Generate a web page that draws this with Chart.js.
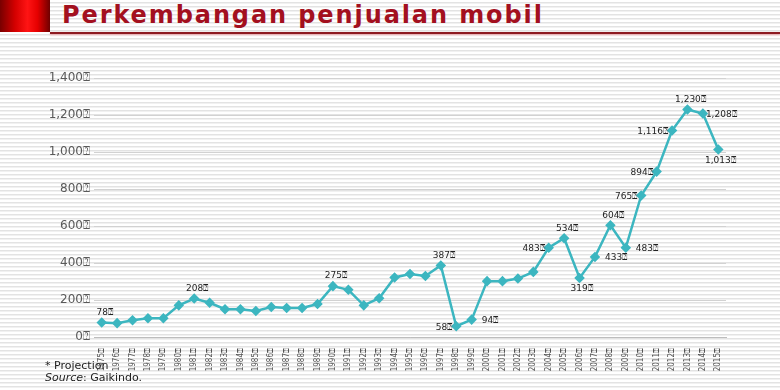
<!DOCTYPE html>
<html lang="id">
<head>
    <meta charset="UTF-8">
    <title>Perkembangan penjualan mobil</title>
    <script src="https://cdn.jsdelivr.net/npm/chart.js"></script>
    <style>
        html, body {
            margin: 0;
            padding: 0;
        }
        body {
            width: 780px;
            height: 390px;
            position: relative;
            overflow: hidden;
            background: repeating-linear-gradient(to bottom,
                #ffffff 0, #ffffff 2px, #e3e3e3 2px, #e3e3e3 3px, #f1f1f1 3px, #f1f1f1 4px);
        }
        .red-block {
            position: absolute;
            left: 0; top: 0;
            width: 50px; height: 32px;
            background: linear-gradient(to right, #780000 0%, #d40000 30%, #ff1414 55%, #e60000 75%, #6e0000 100%);
        }
        .title {
            position: absolute;
            left: 62px; top: 1px;
            margin: 0;
            font-family: 'DejaVu Sans', sans-serif;
            font-weight: 700;
            font-size: 24px;
            line-height: 28px;
            letter-spacing: 1.9px;
            color: #a3101f;
            white-space: nowrap;
        }
        .title-line {
            position: absolute;
            left: 50px; top: 32px;
            width: 730px; height: 2px;
            background: #8e1b22;
            box-shadow: 0 1px 2px rgba(240, 120, 130, 0.6);
        }
        .chart-box {
            position: absolute;
            left: 0; top: 0;
            width: 780px; height: 390px;
        }
        .note {
            position: absolute;
            left: 45px;
            font-family: 'DejaVu Sans', sans-serif;
            font-size: 11px;
            color: #222;
        }
    </style>
</head>
<body>
    <div class="red-block"></div>
    <h1 class="title">Perkembangan penjualan mobil</h1>
    <div class="title-line"></div>
    <div class="chart-box"><canvas id="salesChart"></canvas></div>
    <div class="note" style="top: 359px;">* Projection</div>
    <div class="note" style="top: 371px;"><i>Source</i>: Gaikindo.</div>

    <script>
        const years = ['1975', '1976', '1977', '1978', '1979', '1980', '1981', '1982', '1983', '1984',
                       '1985', '1986', '1987', '1988', '1989', '1990', '1991', '1992', '1993', '1994',
                       '1995', '1996', '1997', '1998', '1999', '2000', '2001', '2002', '2003', '2004',
                       '2005', '2006', '2007', '2008', '2009', '2010', '2011', '2012', '2013', '2014',
                       '2015'];
        // ribuan unit
        const sales = [78, 75, 91, 101, 101, 171, 208, 185, 150, 150,
                       141, 162, 157, 157, 178, 275, 255, 171, 210, 322,
                       341, 330, 387, 58, 94, 302, 302, 316, 352, 483,
                       534, 319, 433, 604, 483, 765, 894, 1116, 1230, 1208,
                       1013];
        const yTicks = [0, 200, 400, 600, 800, 1000, 1200, 1400];
        const labeledYears = ['1975', '1981', '1990', '1997', '1998', '1999', '2004', '2005', '2006',
                              '2007', '2008', '2009', '2010', '2011', '2012', '2013', '2014', '2015'];

        const BOX = '\u2370';

        // where each value label sits around its point
        const labelSide = {
            '1975': 'top', '1981': 'top', '1990': 'top', '1997': 'top',
            '1998': 'left', '1999': 'right', '2004': 'left', '2005': 'top',
            '2006': 'bottom', '2007': 'right', '2008': 'top', '2009': 'right',
            '2010': 'left', '2011': 'left', '2012': 'left', '2013': 'top',
            '2014': 'rightNear', '2015': 'bottom'
        };

        const fmt = v => v.toLocaleString('en-US') + BOX;

        const valueLabels = {
            id: 'valueLabels',
            afterDatasetsDraw(chart) {
                const ctx = chart.ctx;
                const meta = chart.getDatasetMeta(0);
                ctx.save();
                ctx.font = '9px "DejaVu Sans", sans-serif';
                ctx.fillStyle = '#222';
                ctx.textBaseline = 'middle';
                labeledYears.forEach(y => {
                    const i = years.indexOf(y);
                    const pt = meta.data[i];
                    const text = fmt(sales[i]);
                    const side = labelSide[y];
                    let x = pt.x, yy = pt.y;
                    if (side === 'top') { ctx.textAlign = 'center'; x += 3; yy -= 10; }
                    else if (side === 'bottom') { ctx.textAlign = 'center'; x += 2; yy += 11; }
                    else if (side === 'left') { ctx.textAlign = 'right'; x -= 4; yy += 1; }
                    else if (side === 'right') { ctx.textAlign = 'left'; x += 10; yy += 1; }
                    else { ctx.textAlign = 'left'; x += 3; yy += 1; }
                    ctx.fillText(text, x, yy);
                });
                ctx.restore();
            }
        };

        const ctx = document.getElementById('salesChart').getContext('2d');
        new Chart(ctx, {
            type: 'line',
            data: {
                labels: years,
                datasets: [{
                    label: 'Penjualan',
                    data: sales,
                    borderColor: '#3cb6c0',
                    backgroundColor: '#3cb6c0',
                    pointBackgroundColor: '#3cb6c0',
                    pointBorderColor: '#3cb6c0',
                    pointStyle: 'rectRot',
                    pointRadius: 3.5,
                    borderWidth: 2.5,
                    tension: 0,
                    fill: false
                }]
            },
            options: {
                responsive: true,
                maintainAspectRatio: false,
                animation: false,
                layout: { padding: { left: 0, right: 54, top: 78, bottom: 0 } },
                scales: {
                    x: {
                        offset: true,
                        grid: { display: false },
                        border: { color: '#bdbdbd', width: 1 },
                        ticks: {
                            color: '#555',
                            font: { family: '"Liberation Sans Narrow", "DejaVu Sans Condensed", sans-serif', size: 8 },
                            minRotation: 90,
                            maxRotation: 90,
                            autoSkip: false,
                            padding: 3,
                            callback: function (v) { return years[v] + BOX; }
                        },
                        afterFit: s => { s.height = 53; }
                    },
                    y: {
                        min: 0,
                        max: 1400,
                        afterBuildTicks: s => { s.ticks = yTicks.map(v => ({ value: v })); },
                        grid: { color: '#d2d2d2', drawTicks: false },
                        border: { display: false },
                        ticks: {
                            color: '#595959',
                            font: { family: '"DejaVu Sans", sans-serif', size: 12 },
                            padding: 4,
                            callback: v => fmt(v)
                        },
                        afterFit: s => { s.width = 94; }
                    }
                },
                plugins: {
                    legend: { display: false },
                    title: { display: false },
                    tooltip: { enabled: false }
                }
            },
            plugins: [valueLabels]
        });
    </script>
</body>
</html>
